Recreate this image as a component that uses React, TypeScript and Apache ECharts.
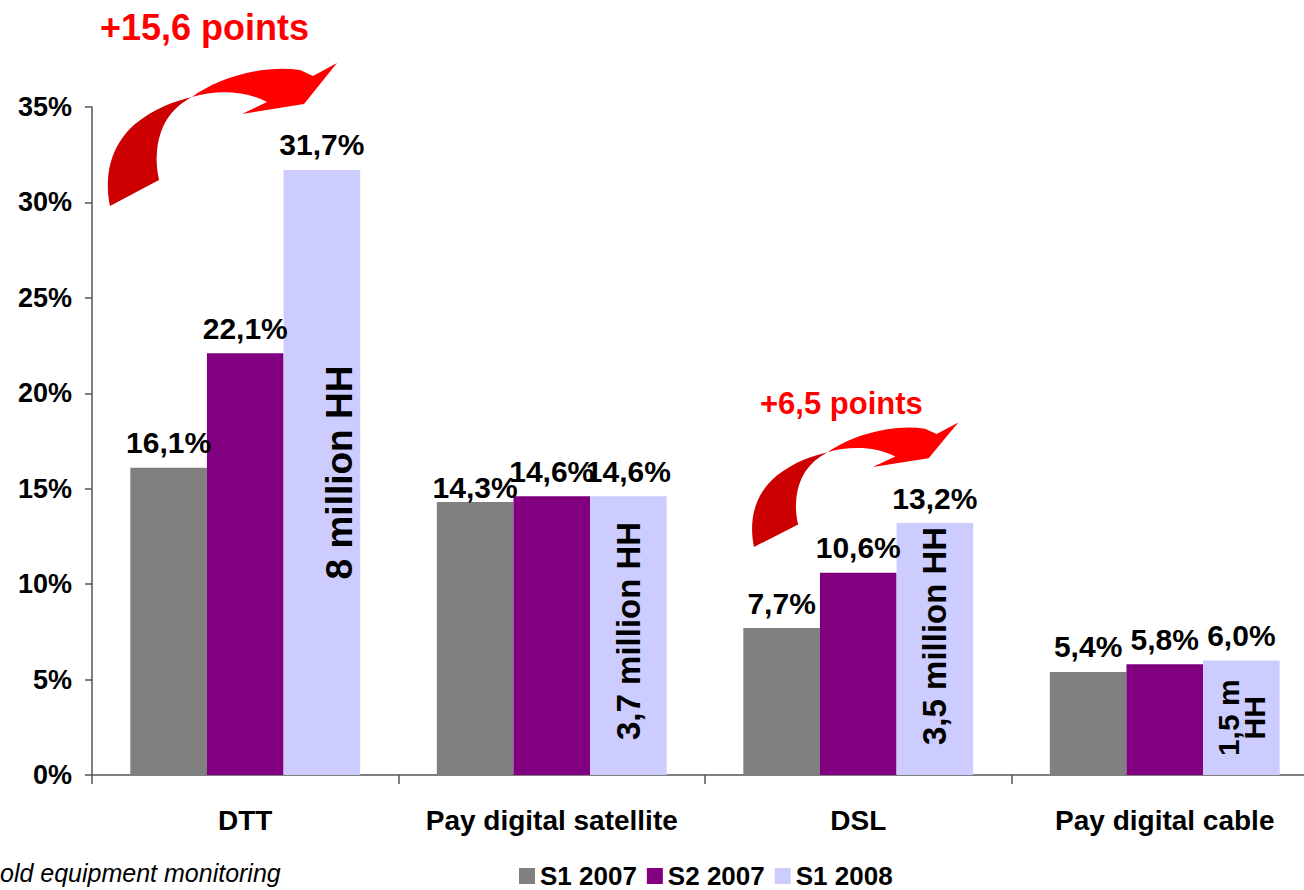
import React, { useEffect, useRef } from "react";
import * as echarts from "echarts";

const categories = ["DTT", "Pay digital satellite", "DSL", "Pay digital cable"];
const seriesNames = ["S1 2007", "S2 2007", "S1 2008"];
const s1_2007 = [16.1, 14.3, 7.7, 5.4];
const s2_2007 = [22.1, 14.6, 10.6, 5.8];
const s1_2008 = [31.7, 14.6, 13.2, 6.0];
const hhLabels = ["8 million HH", "3,7 million HH", "3,5 million HH", "1,5 m\nHH"];
const yTicks = [0, 5, 10, 15, 20, 25, 30, 35];
const growthLabels = ["+15,6 points", "+6,5 points"];
const footnote = "old equipment monitoring";

const FONT = "'Liberation Sans', Arial, Helvetica, sans-serif";
const fmt = (v: number) => v.toFixed(1).replace(".", ",") + "%";

// curved arrow shapes (relative to the tail point)
const darkD =
  "M0,0 C-6,-30 0,-60 25,-82 C45,-98 65,-105 82,-109 C65,-100 50,-85 47,-55 C46,-45 47,-35 49,-26 Z";
const brightD =
  "M82,-109 C105,-126 150,-142 190,-136 L203,-130 L227,-143 L194,-102 L132,-92 L157,-104 C135,-116 105,-116 82,-109 Z";

let registered = false;
function registerShapes() {
  if (registered) return;
  echarts.graphic.registerShape("arrowDark", echarts.graphic.extendPath(darkD, {}) as any);
  echarts.graphic.registerShape("arrowBright", echarts.graphic.extendPath(brightD, {}) as any);
  registered = true;
}

const CHART_W = 1332;

export default function App() {
  const ref = useRef<HTMLDivElement>(null);
  useEffect(() => {
    if (!ref.current) return;
    document.body.style.overflow = "hidden";
    document.documentElement.style.overflow = "hidden";
    registerShapes();
    const chart = echarts.init(ref.current, null, { renderer: "svg" });
    const valueLabel = {
      show: true,
      position: "top" as const,
      distance: 10,
      fontSize: 30,
      fontWeight: "bold" as const,
      fontFamily: FONT,
      color: "#000",
      formatter: (p: any) => fmt(p.value),
    };
    const hhItemLabels = [
      { show: true, position: "inside", rotate: 90, fontSize: 37, offset: [0, 18] },
      { show: true, position: "insideBottom", rotate: 90, align: "left", verticalAlign: "middle", distance: 35, fontSize: 33 },
      { show: true, position: "insideBottom", rotate: 90, align: "left", verticalAlign: "middle", distance: 30, fontSize: 33 },
      { show: true, position: "inside", rotate: 90, fontSize: 30, lineHeight: 26 },
    ];
    const arrows = (x: number, y: number, sx: number, sy: number) => [
      { type: "arrowDark", x, y, scaleX: sx, scaleY: sy, style: { fill: "#cc0000" }, z: 10 },
      { type: "arrowBright", x, y, scaleX: sx, scaleY: sy, style: { fill: "#ff0000" }, z: 10 },
    ];
    chart.setOption({
      animation: false,
      backgroundColor: "#ffffff",
      textStyle: { fontFamily: FONT },
      grid: { left: 92, right: CHART_W - 92 - 1226, top: 107, bottom: 115, containLabel: false },
      legend: {
        data: seriesNames,
        left: 514,
        top: 858,
        itemWidth: 16,
        itemHeight: 16,
        itemGap: 10,
        icon: "rect",
        selectedMode: false,
        textStyle: { fontSize: 26, fontWeight: "bold", fontFamily: FONT, color: "#000" },
      },
      xAxis: {
        type: "category",
        data: categories,
        axisLine: { lineStyle: { color: "#555", width: 1.5 } },
        axisTick: { show: true, length: 9, lineStyle: { color: "#555", width: 1.5 } },
        axisLabel: { interval: 0, fontSize: 28, fontWeight: "bold", color: "#000", margin: 31, fontFamily: FONT },
      },
      yAxis: {
        type: "value",
        min: 0,
        max: 35,
        interval: 5,
        splitLine: { show: false },
        axisLine: { show: true, lineStyle: { color: "#555", width: 1.5 } },
        axisTick: { show: true, length: 7, lineStyle: { color: "#555", width: 1.5 } },
        axisLabel: {
          fontSize: 27,
          fontWeight: "bold",
          color: "#000",
          margin: 20,
          fontFamily: FONT,
          formatter: (v: number) => (yTicks.includes(v) ? v + "%" : ""),
        },
      },
      series: [
        {
          name: seriesNames[0],
          type: "bar",
          data: s1_2007.map((v, i) =>
            i === 1 ? { value: v, label: { offset: [0, 10] } } : v
          ),
          itemStyle: { color: "#808080" },
          barGap: "0%",
          barCategoryGap: "25%",
          label: valueLabel,
        },
        {
          name: seriesNames[1],
          type: "bar",
          data: s2_2007,
          itemStyle: { color: "#800080" },
          barGap: "0%",
          barCategoryGap: "25%",
          label: valueLabel,
        },
        {
          name: seriesNames[2],
          type: "bar",
          stack: "s3",
          data: s1_2008.map((v, i) => ({
            value: v,
            label: { ...hhItemLabels[i], fontWeight: "bold", color: "#000", fontFamily: FONT, formatter: () => hhLabels[i] },
          })),
          itemStyle: { color: "#ccccff" },
          barGap: "0%",
          barCategoryGap: "25%",
        },
        {
          name: "S1 2008 values",
          type: "bar",
          stack: "s3",
          data: s1_2008.map(() => 0),
          itemStyle: { color: "rgba(0,0,0,0)" },
          barGap: "0%",
          barCategoryGap: "25%",
          label: { ...valueLabel, formatter: (p: any) => fmt(s1_2008[p.dataIndex]) },
        },
      ],
      graphic: [
        ...arrows(110, 206, 1, 1),
        ...arrows(754, 547, 0.9, 0.87),
        {
          type: "text",
          left: 100,
          top: 9,
          style: { text: growthLabels[0], fill: "#ff0000", fontSize: 36, fontWeight: "bold", fontFamily: FONT },
        },
        {
          type: "text",
          left: 760,
          top: 388,
          style: { text: growthLabels[1], fill: "#ff0000", fontSize: 31, fontWeight: "bold", fontFamily: FONT },
        },
        {
          type: "text",
          left: 0,
          top: 860,
          style: { text: footnote, fill: "#000", fontSize: 25, fontStyle: "italic", fontFamily: FONT },
        },
      ],
    });
    return () => chart.dispose();
  }, []);
  return (
    <div
      ref={ref}
      style={{ position: "fixed", left: 0, top: 0, width: CHART_W, height: 890, background: "#fff" }}
    />
  );
}
